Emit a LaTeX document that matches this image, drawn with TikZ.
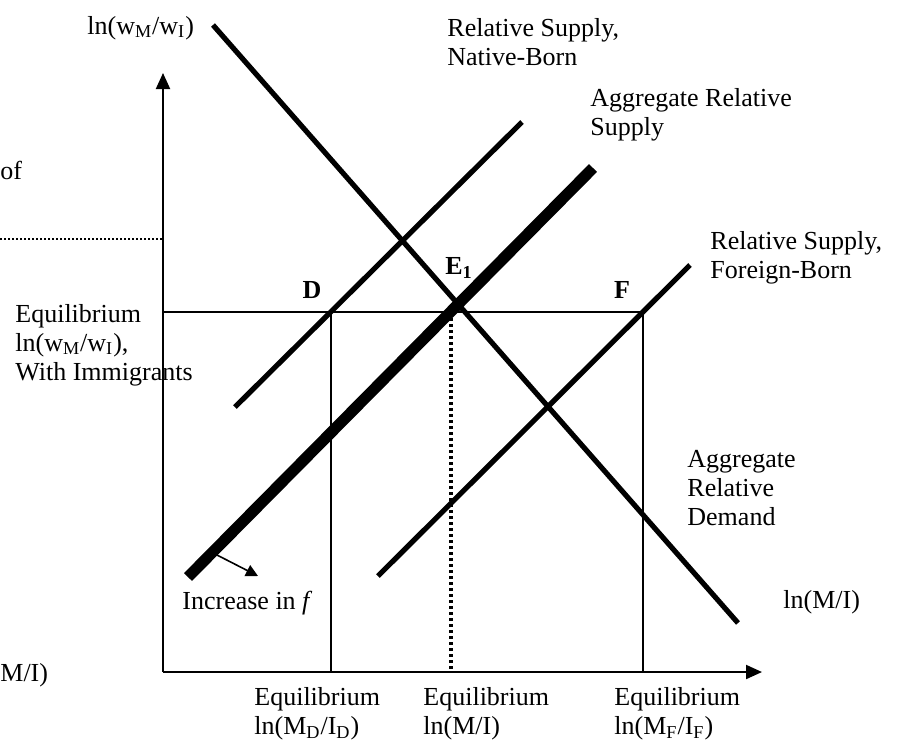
\documentclass[tikz,border=0pt]{standalone}
\usepackage{fontspec}
\setmainfont{Liberation Serif}
\usetikzlibrary{arrows.meta}
\begin{document}
\begin{tikzpicture}[x=0.5pt,y=-0.5pt,
  lbl/.style={font=\fontsize{13}{14.5}\selectfont, inner sep=0pt, align=left},
  axis/.style={line width=1pt, -{Triangle[length=8pt,width=7pt]}},
  thinline/.style={line width=1pt},
  curve/.style={line width=2.6pt},
  aggcurve/.style={line width=5.6pt},
  dotv/.style={line width=1.6pt, dash pattern=on 1.6pt off 1.4pt},
  doth/.style={line width=1pt, dash pattern=on 1pt off 1pt},
  shiftarrow/.style={line width=0.8pt, -{Triangle[length=6pt,width=6pt]}}]
\useasboundingbox (0,0) rectangle (898,752);
% coordinates
\coordinate (O) at (163,672);
\coordinate (Ytip) at (163,73);
\coordinate (Xtip) at (762,672);
\coordinate (Hl) at (163,312);
\coordinate (Hr) at (643,312);
\coordinate (Dtop) at (331,312);
\coordinate (Dbot) at (331,672);
\coordinate (Ftop) at (643,312);
\coordinate (Fbot) at (643,672);
\coordinate (Etop) at (451,312);
\coordinate (Ebot) at (451,672);
\coordinate (dl) at (0,239);
\coordinate (dr) at (163,239);
\coordinate (ADa) at (213,25);
\coordinate (ADb) at (738,623);
\coordinate (RNa) at (235,407);
\coordinate (RNb) at (522,122);
\coordinate (ASa) at (188,577);
\coordinate (ASb) at (593,168);
\coordinate (RFa) at (378,576);
\coordinate (RFb) at (690,265);
\coordinate (Sa) at (217,555);
\coordinate (Sb) at (258,576);
% axes
\draw[axis] (O) -- (Ytip);
\draw[axis] (O) -- (Xtip);
% guide lines
\draw[thinline] (Hl) -- (Hr);
\draw[thinline] (Dtop) -- (Dbot);
\draw[thinline] (Ftop) -- (Fbot);
\draw[dotv] (Etop) -- (Ebot);
\draw[doth] (dl) -- (dr);
% curves
\draw[curve] (ADa) -- (ADb);
\draw[curve] (RNa) -- (RNb);
\draw[curve] (RFa) -- (RFb);
\draw[aggcurve] (ASa) -- (ASb);
\draw[shiftarrow] (Sa) -- (Sb);
% labels
\node[lbl, anchor=west] (ylab) at (87,28) {ln(w\textsubscript{M}/w\textsubscript{I})};
\node[lbl, anchor=west] (rsn) at (447,42) {Relative Supply,\\Native-Born};
\node[lbl, anchor=west] (ars) at (590,115) {Aggregate Relative\\Supply};
\node[lbl, anchor=west] (rsf) at (710,258) {Relative Supply,\\Foreign-Born};
\node[lbl, anchor=west] (ard) at (687,488) {Aggregate\\Relative\\Demand};
\node[lbl, anchor=west] (eqw) at (15,345) {Equilibrium\\ln(w\textsubscript{M}/w\textsubscript{I}),\\With Immigrants};
\node[lbl, anchor=west] (of) at (0,170) {of};
\node[lbl, anchor=west] (mi) at (0,675) {M/I)};
\node[lbl, anchor=west] (xlab) at (783,602) {ln(M/I)};
\node[lbl, anchor=west] (inc) at (182,603) {Increase in \textit{f}};
\node[lbl] (Dl) at (312,290) {\textbf{D}};
\node[lbl] (El) at (459,268) {\textbf{E\textsubscript{1}}};
\node[lbl] (Fl) at (622,290) {\textbf{F}};
\node[lbl, anchor=west] (eqd) at (254,714) {Equilibrium\\ln(M\textsubscript{D}/I\textsubscript{D})};
\node[lbl, anchor=west] (eqm) at (423,714) {Equilibrium\\ln(M/I)};
\node[lbl, anchor=west] (eqf) at (614,714) {Equilibrium\\ln(M\textsubscript{F}/I\textsubscript{F})};
\end{tikzpicture}
\end{document}
